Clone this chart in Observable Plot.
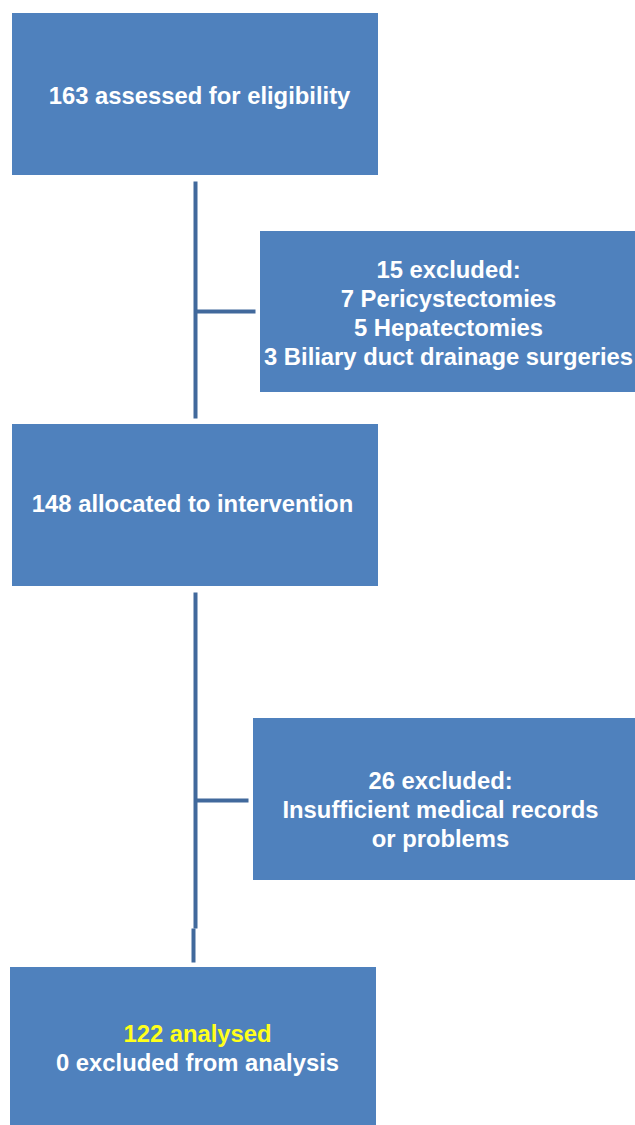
<!DOCTYPE html>
<html>
<head>
<meta charset="utf-8">
<script src="https://cdn.jsdelivr.net/npm/d3@7"></script>
<script src="https://cdn.jsdelivr.net/npm/@observablehq/plot@0.6"></script>
<style>
  html, body { margin: 0; padding: 0; background: #fff; }
  #chart svg { display: block; }
</style>
</head>
<body>
<div id="chart"></div>
<script>
// Flowchart content
const stepIds = ["assessed", "excluded1", "allocated", "excluded2", "analysed"];
const stepLines = [
  ["163 assessed for eligibility"],
  ["15 excluded:", "7 Pericystectomies", "5 Hepatectomies", "3 Biliary duct drainage surgeries"],
  ["148 allocated to intervention"],
  ["26 excluded:", "Insufficient medical records", "or problems"],
  ["122 analysed", "0 excluded from analysis"]
];
const highlightLines = ["122 analysed"];

// Layout (pixel space of the 635×1125 diagram)
const boxX1 = [12, 260, 12, 253, 10];
const boxX2 = [378, 640, 378, 640, 376];
const boxY1 = [13, 231, 424, 718, 967];
const boxY2 = [175, 392, 586, 880, 1130];
const textCx = [199, 448, 192, 440, 197];
const textCy = [96, 313, 504, 810, 1048];
const lineGap = 29;

const connectors = [
  {x1: 195, y1: 181, x2: 195, y2: 418},
  {x1: 195, y1: 311, x2: 255, y2: 311},
  {x1: 195, y1: 592, x2: 195, y2: 928},
  {x1: 195, y1: 800, x2: 248, y2: 800},
  {x1: 193, y1: 928, x2: 193, y2: 962}
];

const boxes = stepIds.map((id, i) => ({id, x1: boxX1[i], x2: boxX2[i], y1: boxY1[i], y2: boxY2[i]}));
const texts = [];
stepIds.forEach((id, i) => {
  const n = stepLines[i].length;
  stepLines[i].forEach((t, j) => {
    texts.push({
      text: t,
      x: textCx[i],
      y: textCy[i] + (j - (n - 1) / 2) * lineGap,
      hi: highlightLines.includes(t)
    });
  });
});

const chart = Plot.plot({
  width: 635,
  height: 1125,
  margin: 0,
  x: {domain: [0, 635], range: [0, 635], axis: null},
  y: {domain: [0, 1125], range: [0, 1125], axis: null},
  style: {fontFamily: "'Liberation Sans', Arial, sans-serif", background: "#fff"},
  marks: [
    Plot.rect(boxes, {x1: "x1", x2: "x2", y1: "y1", y2: "y2", fill: "#4F81BD"}),
    Plot.link(connectors, {x1: "x1", y1: "y1", x2: "x2", y2: "y2", stroke: "#41699C", strokeWidth: 4}),
    Plot.text(texts, {
      x: "x", y: "y", text: "text",
      fill: d => d.hi ? "#FFFF1A" : "#FFFFFF",
      fontSize: 23.8, fontWeight: "bold", textAnchor: "middle", lineAnchor: "middle"
    })
  ]
});
document.getElementById("chart").appendChild(chart);
</script>
</body>
</html>
